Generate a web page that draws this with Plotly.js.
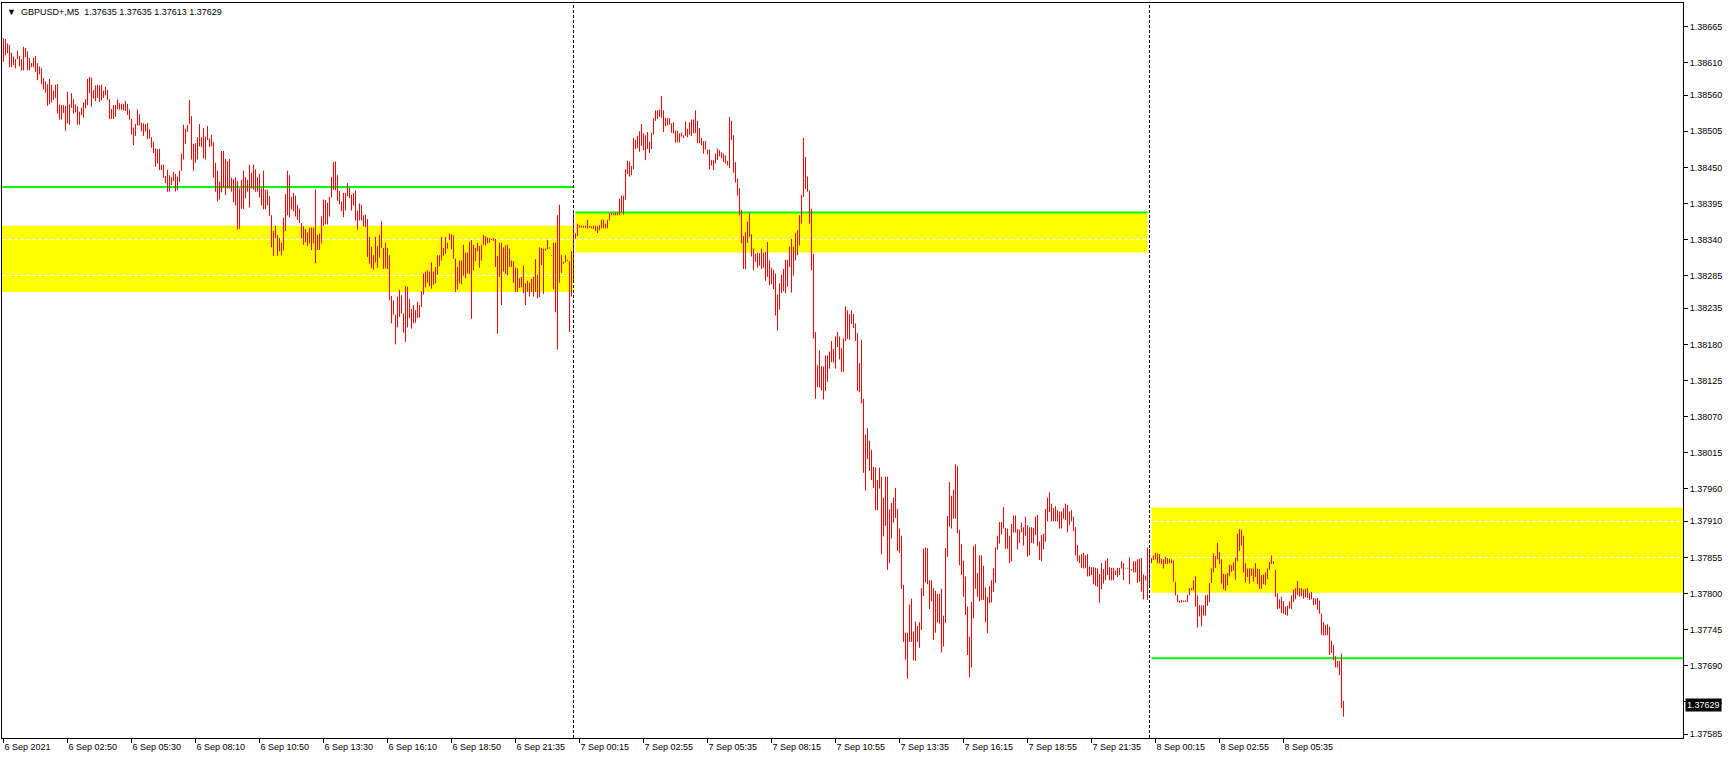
<!DOCTYPE html>
<html>
<head>
<meta charset="utf-8">
<script src="https://cdn.plot.ly/plotly-3.0.1.min.js"></script>
<style>
html,body{margin:0;padding:0;background:#ffffff;overflow:hidden}
#chart{width:1729px;height:759px}
</style>
</head>
<body>
<div id="chart"></div>
<script>
// ---- header ----
const symbolName = "GBPUSD+,M5";
const lastBar = [1.37635, 1.37635, 1.37613, 1.37629]; // O H L C
const bidPrice = 1.37629;

// ---- M5 bars: highs / lows per day ----
const sep6High = [
1.38647,1.38646,1.38639,1.38637,1.38625,1.38619,1.38615,1.38628,1.38620,1.38615,
1.38634,1.38632,1.38627,1.38617,1.38609,1.38617,1.38620,1.38609,1.38604,1.38601,
1.38586,1.38581,1.38577,1.38585,1.38576,1.38567,1.38576,1.38577,1.38546,1.38545,
1.38545,1.38544,1.38565,1.38546,1.38563,1.38554,1.38546,1.38543,1.38535,1.38541,
1.38549,1.38554,1.38585,1.38588,1.38587,1.38568,1.38575,1.38576,1.38575,1.38576,
1.38567,1.38573,1.38568,1.38554,1.38539,1.38545,1.38545,1.38554,1.38548,1.38547,
1.38547,1.38551,1.38547,1.38538,1.38524,1.38511,1.38516,1.38538,1.38531,1.38518,
1.38517,1.38516,1.38518,1.38508,1.38496,1.38489,1.38479,1.38478,1.38478,1.38454,
1.38454,1.38437,1.38446,1.38438,1.38435,1.38443,1.38440,1.38436,1.38445,1.38471,
1.38515,1.38509,1.38515,1.38553,1.38528,1.38486,1.38487,1.38496,1.38516,1.38496,
1.38510,1.38497,1.38513,1.38494,1.38500,1.38489,1.38457,1.38445,1.38428,1.38475,
1.38475,1.38463,1.38459,1.38463,1.38434,1.38432,1.38435,1.38429,1.38418,1.38431,
1.38445,1.38435,1.38431,1.38454,1.38442,1.38454,1.38447,1.38435,1.38440,1.38418,
1.38445,1.38416,1.38416,1.38406,1.38377,1.38353,1.38361,1.38347,1.38342,1.38335,
1.38373,1.38409,1.38445,1.38438,1.38405,1.38411,1.38407,1.38393,1.38387,1.38365,
1.38360,1.38356,1.38351,1.38358,1.38358,1.38358,1.38416,1.38347,1.38349,1.38375,
1.38401,1.38400,1.38396,1.38405,1.38435,1.38458,1.38459,1.38438,1.38414,1.38398,
1.38411,1.38411,1.38426,1.38419,1.38408,1.38411,1.38415,1.38384,1.38395,1.38393,
1.38377,1.38378,1.38371,1.38344,1.38329,1.38316,1.38344,1.38330,1.38347,1.38368,
1.38327,1.38335,1.38327,1.38316,1.38254,1.38247,1.38225,1.38253,1.38263,1.38255,
1.38227,1.38269,1.38268,1.38249,1.38234,1.38240,1.38232,1.38245,1.38240,1.38261,
1.38288,1.38291,1.38293,1.38291,1.38305,1.38291,1.38298,1.38316,1.38316,1.38344,
1.38327,1.38344,1.38335,1.38349,1.38348,1.38346,1.38311,1.38298,1.38308,1.38308,
1.38332,1.38320,1.38320,1.38336,1.38339,1.38332,1.38327,1.38335,1.38330,1.38332,
1.38347,1.38345,1.38343,1.38342,1.38341,1.38342,1.38341,1.38315,1.38335,1.38335,
1.38328,1.38331,1.38332,1.38326,1.38308,1.38307,1.38297,1.38296,1.38281,1.38283,
1.38300,1.38273,1.38277,1.38274,1.38280,1.38283,1.38310,1.38286,1.38328,1.38327,
1.38326,1.38326,1.38339,1.38328,1.38316,1.38335,1.38335,1.38377,1.38393,1.38316,
1.38306,1.38316,1.38309,1.38307,1.38322
];
const sep6Low = [
1.38611,1.38621,1.38624,1.38603,1.38603,1.38606,1.38601,1.38615,1.38604,1.38598,
1.38598,1.38618,1.38598,1.38598,1.38603,1.38603,1.38596,1.38583,1.38592,1.38577,
1.38569,1.38564,1.38544,1.38546,1.38549,1.38553,1.38556,1.38532,1.38523,1.38523,
1.38533,1.38506,1.38517,1.38515,1.38541,1.38532,1.38534,1.38515,1.38515,1.38530,
1.38526,1.38540,1.38545,1.38563,1.38543,1.38555,1.38551,1.38556,1.38550,1.38552,
1.38556,1.38560,1.38553,1.38524,1.38524,1.38524,1.38527,1.38539,1.38538,1.38538,
1.38537,1.38536,1.38530,1.38523,1.38500,1.38484,1.38498,1.38514,1.38514,1.38505,
1.38498,1.38505,1.38493,1.38494,1.38480,1.38472,1.38451,1.38456,1.38446,1.38446,
1.38434,1.38426,1.38413,1.38413,1.38423,1.38429,1.38413,1.38415,1.38428,1.38445,
1.38462,1.38486,1.38504,1.38516,1.38462,1.38445,1.38457,1.38462,1.38482,1.38481,
1.38464,1.38462,1.38492,1.38481,1.38482,1.38434,1.38413,1.38398,1.38401,1.38412,
1.38419,1.38408,1.38418,1.38418,1.38413,1.38397,1.38392,1.38355,1.38356,1.38387,
1.38386,1.38403,1.38413,1.38389,1.38418,1.38416,1.38413,1.38413,1.38404,1.38392,
1.38386,1.38386,1.38392,1.38376,1.38328,1.38315,1.38342,1.38315,1.38322,1.38316,
1.38323,1.38353,1.38377,1.38374,1.38386,1.38383,1.38375,1.38370,1.38365,1.38342,
1.38332,1.38336,1.38330,1.38334,1.38324,1.38334,1.38304,1.38324,1.38324,1.38334,
1.38361,1.38363,1.38363,1.38375,1.38404,1.38416,1.38415,1.38399,1.38394,1.38383,
1.38374,1.38384,1.38406,1.38403,1.38384,1.38392,1.38369,1.38355,1.38369,1.38369,
1.38360,1.38359,1.38313,1.38303,1.38296,1.38294,1.38305,1.38297,1.38312,1.38327,
1.38295,1.38296,1.38295,1.38247,1.38212,1.38225,1.38180,1.38206,1.38222,1.38227,
1.38198,1.38184,1.38206,1.38220,1.38204,1.38212,1.38213,1.38220,1.38221,1.38237,
1.38256,1.38267,1.38274,1.38269,1.38265,1.38271,1.38273,1.38286,1.38299,1.38308,
1.38315,1.38318,1.38326,1.38339,1.38325,1.38311,1.38260,1.38264,1.38273,1.38272,
1.38285,1.38281,1.38288,1.38287,1.38219,1.38293,1.38307,1.38322,1.38297,1.38308,
1.38332,1.38331,1.38334,1.38335,1.38339,1.38338,1.38298,1.38196,1.38283,1.38240,
1.38291,1.38287,1.38285,1.38298,1.38298,1.38274,1.38260,1.38260,1.38266,1.38267,
1.38258,1.38240,1.38260,1.38253,1.38260,1.38253,1.38260,1.38250,1.38252,1.38301,
1.38257,1.38323,1.38325,1.38326,1.38315,1.38264,1.38229,1.38172,1.38274,1.38289,
1.38303,1.38305,1.38307,1.38199,1.38253
];
const sep7High = [
1.38380,1.38350,1.38364,1.38362,1.38361,1.38361,1.38361,1.38370,1.38361,1.38360,
1.38361,1.38361,1.38360,1.38362,1.38370,1.38370,1.38364,1.38370,1.38380,1.38380,
1.38380,1.38381,1.38381,1.38402,1.38407,1.38407,1.38447,1.38460,1.38459,1.38452,
1.38495,1.38492,1.38498,1.38505,1.38516,1.38502,1.38499,1.38504,1.38489,1.38503,
1.38525,1.38537,1.38537,1.38538,1.38559,1.38537,1.38525,1.38525,1.38525,1.38517,
1.38519,1.38506,1.38506,1.38502,1.38503,1.38499,1.38520,1.38509,1.38519,1.38523,
1.38523,1.38537,1.38521,1.38510,1.38495,1.38490,1.38490,1.38477,1.38477,1.38461,
1.38461,1.38471,1.38479,1.38476,1.38473,1.38471,1.38468,1.38460,1.38527,1.38521,
1.38499,1.38458,1.38433,1.38418,1.38385,1.38345,1.38351,1.38367,1.38380,1.38348,
1.38326,1.38318,1.38320,1.38319,1.38326,1.38320,1.38321,1.38336,1.38308,1.38297,
1.38294,1.38288,1.38256,1.38273,1.38286,1.38295,1.38309,1.38309,1.38329,1.38341,
1.38329,1.38350,1.38354,1.38377,1.38408,1.38495,1.38466,1.38436,1.38415,1.38387,
1.38318,1.38199,1.38148,1.38171,1.38147,1.38146,1.38163,1.38163,1.38169,1.38185,
1.38173,1.38192,1.38199,1.38192,1.38174,1.38189,1.38238,1.38232,1.38226,1.38232,
1.38226,1.38212,1.38197,1.38151,1.38187,1.38097,1.38042,1.38052,1.38033,1.38019,
1.37993,1.37992,1.37973,1.37992,1.37978,1.37946,1.37978,1.37978,1.37928,1.37938,
1.37946,1.37961,1.37929,1.37899,1.37888,1.37813,1.37740,1.37740,1.37783,1.37792,
1.37742,1.37757,1.37750,1.37756,1.37808,1.37868,1.37870,1.37869,1.37820,1.37820,
1.37808,1.37804,1.37799,1.37799,1.37807,1.37766,1.37869,1.37918,1.37970,1.37949,
1.37958,1.37997,1.37994,1.37897,1.37875,1.37850,1.37826,1.37780,1.37734,1.37787,
1.37872,1.37875,1.37831,1.37858,1.37858,1.37842,1.37809,1.37795,1.37811,1.37820,
1.37838,1.37870,1.37888,1.37909,1.37909,1.37932,1.37900,1.37899,1.37888,1.37906,
1.37919,1.37919,1.37898,1.37897,1.37908,1.37901,1.37917,1.37904,1.37901,1.37901,
1.37900,1.37917,1.37920,1.37879,1.37889,1.37891,1.37929,1.37946,1.37954,1.37937,
1.37930,1.37933,1.37927,1.37925,1.37925,1.37930,1.37937,1.37935,1.37925,1.37927,
1.37917,1.37901,1.37874,1.37858,1.37860,1.37862,1.37858,1.37860,1.37841,1.37840,
1.37840,1.37839,1.37838,1.37830,1.37846,1.37837,1.37850,1.37854,1.37840,1.37839,
1.37839,1.37835,1.37839,1.37839,1.37849,1.37846,1.37839,1.37839,1.37855,1.37837,
1.37849,1.37849,1.37852,1.37853,1.37854,1.37829,1.37827,1.37870
];
const sep7Low = [
1.38278,1.38341,1.38345,1.38358,1.38358,1.38358,1.38358,1.38357,1.38358,1.38357,
1.38356,1.38353,1.38350,1.38354,1.38357,1.38357,1.38357,1.38357,1.38369,1.38377,
1.38377,1.38377,1.38377,1.38377,1.38382,1.38378,1.38401,1.38440,1.38436,1.38438,
1.38447,1.38478,1.38480,1.38474,1.38483,1.38476,1.38461,1.38478,1.38472,1.38478,
1.38500,1.38521,1.38524,1.38527,1.38526,1.38504,1.38513,1.38514,1.38515,1.38503,
1.38502,1.38488,1.38488,1.38488,1.38497,1.38495,1.38498,1.38496,1.38500,1.38498,
1.38502,1.38502,1.38487,1.38487,1.38484,1.38471,1.38477,1.38470,1.38447,1.38453,
1.38446,1.38456,1.38461,1.38467,1.38464,1.38458,1.38456,1.38453,1.38449,1.38492,
1.38442,1.38427,1.38407,1.38377,1.38334,1.38295,1.38295,1.38335,1.38344,1.38314,
1.38293,1.38306,1.38297,1.38300,1.38295,1.38297,1.38277,1.38283,1.38270,1.38272,
1.38264,1.38224,1.38201,1.38233,1.38258,1.38261,1.38258,1.38268,1.38298,1.38259,
1.38285,1.38308,1.38316,1.38331,1.38364,1.38405,1.38417,1.38413,1.38364,1.38293,
1.38189,1.38097,1.38115,1.38114,1.38110,1.38096,1.38109,1.38123,1.38143,1.38153,
1.38152,1.38143,1.38176,1.38157,1.38138,1.38138,1.38185,1.38188,1.38187,1.38211,
1.38205,1.38185,1.38109,1.38107,1.38090,1.37984,1.37957,1.38005,1.37987,1.37973,
1.37961,1.37927,1.37927,1.37960,1.37860,1.37887,1.37903,1.37836,1.37846,1.37884,
1.37908,1.37915,1.37865,1.37862,1.37807,1.37726,1.37699,1.37670,1.37726,1.37726,
1.37698,1.37697,1.37726,1.37717,1.37744,1.37796,1.37817,1.37814,1.37776,1.37788,
1.37729,1.37740,1.37756,1.37754,1.37710,1.37719,1.37755,1.37856,1.37902,1.37899,
1.37914,1.37914,1.37892,1.37843,1.37828,1.37795,1.37767,1.37706,1.37672,1.37687,
1.37762,1.37807,1.37795,1.37788,1.37790,1.37790,1.37756,1.37739,1.37785,1.37786,
1.37802,1.37816,1.37867,1.37876,1.37890,1.37899,1.37868,1.37868,1.37846,1.37849,
1.37893,1.37893,1.37867,1.37877,1.37893,1.37873,1.37888,1.37856,1.37858,1.37877,
1.37876,1.37889,1.37872,1.37851,1.37849,1.37867,1.37879,1.37910,1.37924,1.37910,
1.37910,1.37910,1.37910,1.37899,1.37899,1.37914,1.37912,1.37893,1.37904,1.37910,
1.37895,1.37858,1.37849,1.37846,1.37839,1.37838,1.37839,1.37826,1.37826,1.37828,
1.37814,1.37812,1.37810,1.37786,1.37806,1.37815,1.37820,1.37828,1.37820,1.37820,
1.37820,1.37828,1.37825,1.37828,1.37838,1.37820,1.37838,1.37838,1.37814,1.37835,
1.37832,1.37832,1.37816,1.37818,1.37803,1.37791,1.37820,1.37790
];
const sep8High = [
1.37868,1.37854,1.37858,1.37862,1.37861,1.37860,1.37853,1.37852,1.37856,1.37854,
1.37853,1.37852,1.37850,1.37818,1.37798,1.37789,1.37790,1.37789,1.37789,1.37798,
1.37808,1.37808,1.37820,1.37826,1.37797,1.37782,1.37782,1.37782,1.37797,1.37798,
1.37816,1.37838,1.37861,1.37857,1.37877,1.37863,1.37852,1.37830,1.37829,1.37831,
1.37844,1.37843,1.37847,1.37855,1.37891,1.37898,1.37897,1.37888,1.37846,1.37838,
1.37838,1.37838,1.37838,1.37846,1.37838,1.37837,1.37828,1.37829,1.37832,1.37838,
1.37848,1.37858,1.37849,1.37836,1.37800,1.37791,1.37795,1.37788,1.37780,1.37781,
1.37788,1.37797,1.37806,1.37808,1.37819,1.37808,1.37808,1.37806,1.37807,1.37808,
1.37801,1.37802,1.37793,1.37792,1.37793,1.37789,1.37769,1.37756,1.37752,1.37753,
1.37749,1.37728,1.37721,1.37704,1.37697,1.37697,1.37708,1.37636
];
const sep8Low = [
1.37810,1.37846,1.37851,1.37852,1.37846,1.37846,1.37845,1.37838,1.37845,1.37845,
1.37846,1.37846,1.37818,1.37797,1.37787,1.37786,1.37786,1.37787,1.37787,1.37787,
1.37797,1.37805,1.37805,1.37780,1.37748,1.37765,1.37750,1.37766,1.37766,1.37781,
1.37787,1.37816,1.37832,1.37839,1.37852,1.37845,1.37815,1.37806,1.37804,1.37812,
1.37826,1.37833,1.37835,1.37821,1.37849,1.37865,1.37873,1.37832,1.37817,1.37825,
1.37815,1.37827,1.37818,1.37825,1.37814,1.37807,1.37807,1.37814,1.37813,1.37822,
1.37836,1.37845,1.37845,1.37795,1.37776,1.37777,1.37770,1.37769,1.37767,1.37766,
1.37777,1.37776,1.37787,1.37791,1.37797,1.37795,1.37796,1.37792,1.37794,1.37793,
1.37790,1.37791,1.37782,1.37783,1.37775,1.37769,1.37737,1.37736,1.37736,1.37736,
1.37706,1.37709,1.37698,1.37687,1.37687,1.37675,1.37625,1.37612
];

// ---- axes ----
const xTickBars = [0,32,64,96,128,160,192,224,256,288,320,352,384,416,448,480,512,544,576,608,640];
const xTickLabels = ["6 Sep 2021","6 Sep 02:50","6 Sep 05:30","6 Sep 08:10","6 Sep 10:50","6 Sep 13:30",
  "6 Sep 16:10","6 Sep 18:50","6 Sep 21:35","7 Sep 00:15","7 Sep 02:55","7 Sep 05:35","7 Sep 08:15",
  "7 Sep 10:55","7 Sep 13:35","7 Sep 16:15","7 Sep 18:55","7 Sep 21:35","8 Sep 00:15","8 Sep 02:55","8 Sep 05:35"];
const yTickVals = [1.38665,1.38610,1.38560,1.38505,1.38450,1.38395,1.38340,1.38285,1.38235,1.38180,1.38125,
  1.38070,1.38015,1.37960,1.37910,1.37855,1.37800,1.37745,1.37690,1.37635,1.37585];
const yTickLabels = ["1.38665","1.38610","1.38560","1.38505","1.38450","1.38395","1.38340","1.38285","1.38235",
  "1.38180","1.38125","1.38070","1.38015","1.37960","1.37910","1.37855","1.37800","1.37745","1.37690","1.37635","1.37585"];

// ---- drawn objects: daily zones and levels ----
const daySeparatorBars = [285, 573];
const zoneFromBar = [-2, 286, 574];
const zoneToBar   = [285, 572, 900];
const zoneLow  = [1.38260, 1.38320, 1.37801];
const zoneHigh = [1.38361, 1.38381, 1.37931];
const levelFromBar = [-2, 286, 574];
const levelToBar   = [285, 572, 900];
const levelPrice   = [1.38420, 1.38381, 1.37701];

// ---- build bars ----
const high = sep6High.concat(sep7High, sep8High);
const low  = sep6Low.concat(sep7Low, sep8Low);
const bx = [], by = [];
for (let i = 0; i < high.length; i++) {
  bx.push(i, i, null);
  by.push(low[i], high[i], null);
}

const shapes = [];
for (let k = 0; k < zoneLow.length; k++) {
  shapes.push({type:'rect', xref:'x', yref:'y', x0:zoneFromBar[k], x1:zoneToBar[k],
    y0:zoneLow[k], y1:zoneHigh[k], fillcolor:'#ffff00', line:{width:0}, layer:'below'});
}
for (let k = 0; k < levelPrice.length; k++) {
  shapes.push({type:'line', xref:'x', yref:'y', x0:levelFromBar[k], x1:levelToBar[k],
    y0:levelPrice[k], y1:levelPrice[k], line:{color:'#00ff00', width:2}, layer:'below'});
}
daySeparatorBars.forEach(b => {
  shapes.push({type:'line', xref:'x', yref:'paper', x0:b, x1:b, y0:0, y1:1,
    line:{color:'#000000', width:1, dash:'3px,2px'}, layer:'above'});
});

const font = '"Liberation Sans", Arial, sans-serif';
const NB = '\u00a0';

const layout = {
  width:1729, height:759,
  margin:{l:2, r:46, t:3, b:21, pad:0},
  paper_bgcolor:'#ffffff', plot_bgcolor:'#ffffff',
  showlegend:false,
  font:{family:font, size:9, color:'#000000'},
  xaxis:{
    range:[-0.75, 839.75], tickmode:'array', tickvals:xTickBars, ticktext:xTickLabels,
    ticks:'outside', ticklen:4, tickwidth:1, tickcolor:'#000000',
    ticklabelposition:'outside right',
    tickfont:{family:font, size:9, color:'#000000'},
    showgrid:false, zeroline:false, showline:true, linecolor:'#000000', linewidth:1, mirror:true,
    fixedrange:true
  },
  yaxis:{
    side:'right', range:[1.375794, 1.387008], tickmode:'array', tickvals:yTickVals, ticktext:yTickLabels,
    ticks:'outside', ticklen:4, tickwidth:1, tickcolor:'#000000',
    tickfont:{family:font, size:9, color:'#000000'},
    showgrid:true, gridcolor:'#ffffff', gridwidth:1, griddash:'4px,2px',
    zeroline:false, showline:true, linecolor:'#000000', linewidth:1, mirror:true,
    fixedrange:true
  },
  shapes:shapes,
  annotations:[
    {xref:'paper', yref:'paper', x:0, y:1, xanchor:'left', yanchor:'top', xshift:3, yshift:-2,
     showarrow:false, align:'left',
     text:'\u25BC' + NB + NB + symbolName + NB + NB + lastBar.map(v => v.toFixed(5)).join(' '),
     font:{family:font, size:9, color:'#000000'}},
    {xref:'paper', yref:'y', x:1, y:bidPrice, xanchor:'left', yanchor:'middle', xshift:2,
     showarrow:false, text:bidPrice.toFixed(5), bgcolor:'#000000', borderpad:1,
     font:{family:font, size:9, color:'#ffffff'}}
  ]
};

const traces = [{
  type:'scatter', mode:'lines', x:bx, y:by, connectgaps:false,
  line:{color:'#ff0000', width:1}, hoverinfo:'skip', name:symbolName
}];

Plotly.newPlot('chart', traces, layout, {displayModeBar:false, staticPlot:true});
</script>
</body>
</html>
